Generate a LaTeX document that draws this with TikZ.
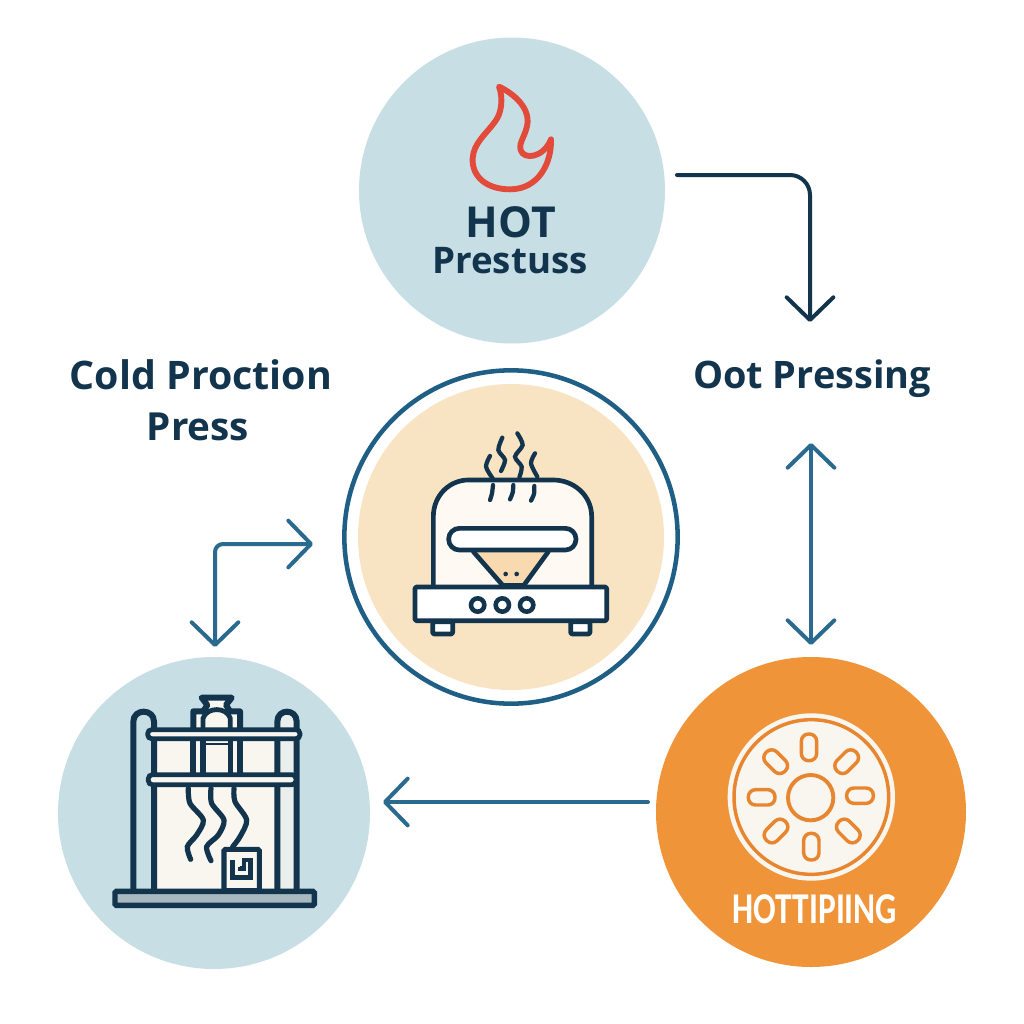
\documentclass[tikz,border=0pt]{standalone}
\usepackage{fontspec}
\setmainfont{Open Sans}
\newfontfamily\labelfont{Open Sans}[BoldFont={Open Sans Bold}]
\newfontfamily\condfont[FakeStretch=0.76]{Carlito}
\usetikzlibrary{arrows.meta}
\definecolor{ink}{HTML}{12344D}
\definecolor{teal}{HTML}{2A6A8E}
\definecolor{ringblue}{HTML}{1F5F85}
\definecolor{pale}{HTML}{C7DEE5}
\definecolor{peach}{HTML}{F8E3C3}
\definecolor{orangebg}{HTML}{F0943A}
\definecolor{wheelline}{HTML}{E8862F}
\definecolor{flame}{HTML}{E24B3A}
\definecolor{cream}{HTML}{F9F5EF}
\definecolor{basegrey}{HTML}{A8BAC0}
\tikzset{
  disc/.style={circle,inner sep=0pt,outer sep=0pt,draw=none},
  conn/.style={line width=3pt,line cap=round},
  barb/.tip={Straight Barb[length=17pt,width=35pt,line width=3pt,round]},
  lbl/.style={font=\labelfont\bfseries\fontsize{27.5}{32}\selectfont,text=ink,inner sep=0pt},
  sidelbl/.style={font=\labelfont\bfseries\fontsize{29}{32}\selectfont,text=ink,inner sep=0pt},
  zoomgrid/.style={x=0.25pt,y=-0.25pt},
  iconline/.style={draw=ink,line width=3.5pt,line join=round,line cap=round},
  steam/.style={draw=ink,line width=3.2pt,line cap=round},
  wave/.style={draw=ink,line width=3.9pt,line cap=round},
  press/.style={draw=ink,line width=4.5pt,line join=round},
  wheelpart/.style={draw=wheelline,line width=2.6pt,fill=cream}
}
\begin{document}
\begin{tikzpicture}[x=0.75pt,y=-0.75pt]
\useasboundingbox (0,0) rectangle (1024,1024);
\fill[white] (0,0) rectangle (1024,1024);
% discs
\node[disc,fill=pale,minimum size=229.5pt] (hot) at (512,190.5) {};
\node[disc,draw=ringblue,line width=3.4pt,fill=white,minimum size=250pt] (ring) at (511,537) {};
\node[disc,fill=peach,minimum size=229.5pt] (center) at (511,537) {};
\node[disc,fill=pale,minimum size=234pt] (cold) at (214,813) {};
\node[disc,fill=orangebg,minimum size=232.5pt] (oot) at (811,812) {};
% flame
\begin{scope}[shift={(350,30)},zoomgrid]
\draw[draw=flame,line width=4.4pt,line join=round]
 (447,170) .. controls (490,190) and (535,230) .. (533,275)
 .. controls (530,315) and (505,335) .. (512,360)
 .. controls (520,390) and (580,385) .. (603,328)
 .. controls (605,400) and (565,478) .. (480,478)
 .. controls (410,478) and (365,440) .. (368,385)
 .. controls (370,340) and (410,310) .. (435,275)
 .. controls (455,250) and (460,205) .. (447,170) -- cycle;
\end{scope}
% toaster
\begin{scope}[shift={(340,370)},zoomgrid]
\draw[iconline,fill=white!80!peach] (280,655) -- (280,440) .. controls (280,375) and (330,330) .. (385,330) -- (640,330) .. controls (700,330) and (755,375) .. (755,440) -- (755,655);
\draw[iconline,fill=peach!90!orange] (400,545) -- (490,648) -- (550,648) -- (625,545);
\draw[iconline,fill=white,rounded corners=8pt] (326,475) rectangle (708,540);
\fill[ink] (497,612) circle[radius=7] (530,612) circle[radius=7];
\draw[iconline,fill=ink] (490,645) rectangle (550,652);
\draw[iconline,fill=white,rounded corners=1pt] (278,755) rectangle (338,792);
\draw[iconline,fill=white,rounded corners=1pt] (692,755) rectangle (750,792);
\draw[iconline,fill=white,rounded corners=1pt] (225,651) rectangle (800,752);
\foreach \kx in {413,487,560}{\draw[draw=ink,line width=3.4pt,fill=white] (\kx,705) circle[radius=20];}
\draw[steam] plot[smooth] coordinates {(450,258) (438,290) (458,325)};
\draw[steam] plot[smooth] coordinates {(487,203) (475,240) (495,270) (483,303)};
\draw[steam] plot[smooth] coordinates {(532,190) (548,225) (525,260) (545,290) (538,322)};
\draw[steam] plot[smooth] coordinates {(585,250) (573,280) (592,320)};
\draw[steam] plot[smooth] coordinates {(459,345) (456,370) (450,390)};
\draw[steam] plot[smooth] coordinates {(520,345) (518,368) (510,388)};
\draw[steam] plot[smooth] coordinates {(583,348) (582,372) (573,392)};
\end{scope}
% press
\begin{scope}[shift={(50,650)},zoomgrid]
\fill[cream] (312,240) rectangle (740,722);
\draw[press,fill=cream!70!pale] (682,722) -- (682,215) .. controls (682,175) and (740,175) .. (740,215) -- (740,722);
\draw[press] (250,722) -- (250,215) .. controls (250,175) and (312,175) .. (312,215) -- (312,722);
\draw[press,fill=cream] (430,240) -- (430,184) -- (460,184) -- (472,165) -- (455,143) -- (545,143) -- (528,165) -- (540,184) -- (570,184) -- (570,240);
\draw[draw=ink,line width=3.6pt,fill=cream] (459,240) -- (459,205) .. controls (470,170) and (530,170) .. (541,205) -- (541,240);
\draw[draw=ink,line width=3.6pt,fill=cream,rounded corners=3pt] (293,239) rectangle (750,266);
\draw[press] (428,270) -- (428,372) (570,270) -- (570,372);
\draw[draw=ink,line width=3.8pt] (459,270) -- (459,372) (541,270) -- (541,372);
\draw[draw=ink,line width=2pt] (459,282) -- (541,282);
\draw[draw=ink,line width=3.6pt,fill=cream,rounded corners=3pt] (295,374) rectangle (738,404);
\draw[wave] plot[smooth] coordinates {(415,415) (420,460) (460,510) (440,555) (412,590) (422,628)};
\draw[wave] plot[smooth] coordinates {(483,415) (485,460) (522,510) (505,555) (470,590) (483,632)};
\draw[wave] plot[smooth] coordinates {(552,415) (555,455) (590,510) (570,560) (548,590)};
\draw[draw=ink,line width=3.8pt,fill=cream,rounded corners=1pt] (522,598) rectangle (628,722);
\draw[draw=ink,line width=3.6pt,line join=miter] (548,630) -- (548,682) -- (602,682) -- (602,630) -- (582,630) -- (582,655) -- (570,655) -- (570,650);
\draw[draw=ink,line width=4pt,fill=basegrey,rounded corners=1pt] (195,724) rectangle (793,766);
\end{scope}
% wheel
\begin{scope}[shift={(650,650)},zoomgrid]
\fill[cream] (484,441) circle[radius=251];
\draw[draw=wheelline,line width=2.6pt] (484,441) circle[radius=232];
\draw[wheelpart,line width=2.9pt] (482,443) circle[radius=68];
\foreach \wx/\wy/\wr in {477/292/90,484/590/90,335/442/0,630/437/0,377/335/-45,590/335/45,378/543/45,595/543/-45}{
  \draw[wheelpart,rounded corners=5.4pt,shift={(\wx,\wy)},rotate=\wr] (-40,-23) rectangle (40,23);
}
\end{scope}
% labels
\node[lbl,font=\labelfont\bfseries\fontsize{32}{36}\selectfont] (hotA) at (511,222) {HOT};
\node[lbl] (hotB) at (510,261) {Prestuss};
\node[sidelbl,font=\labelfont\bfseries\fontsize{29.5}{32}\selectfont] (coldA) at (201,375) {Cold Proction};
\node[sidelbl] (coldB) at (198,427) {Press};
\node[sidelbl,font=\labelfont\bfseries\fontsize{28.4}{32}\selectfont] (ootL) at (812,379) {Oot Pressing};
\node[font=\condfont\bfseries\fontsize{33}{36}\selectfont,text=white,inner sep=0pt] (wheelL) at (815,909) {HOTTIPIING};
% connector ends
\coordinate (a1) at (677,175);
\coordinate (a2) at (810,322);
\coordinate (b1) at (811,443);
\coordinate (b2) at (811,645);
\coordinate (c1) at (215,647);
\coordinate (c2) at (313,544);
\coordinate (d1) at (648,802);
\coordinate (d2) at (383,802);
\draw[conn,draw=ink,rounded corners=15pt,-barb] (a1) -| (a2);
\draw[conn,draw=teal,barb-barb] (b1) -- (b2);
\draw[conn,draw=teal,rounded corners=6pt,barb-barb] (c1) |- (c2);
\draw[conn,draw=teal,-barb] (d1) -- (d2);
\end{tikzpicture}
\end{document}
